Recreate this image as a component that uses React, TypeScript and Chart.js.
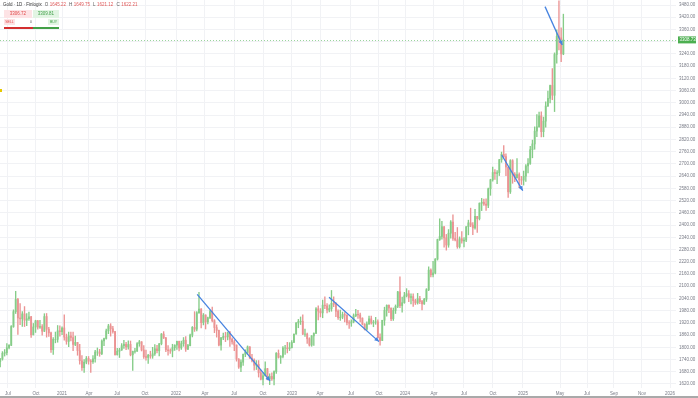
import React, { useEffect, useRef } from 'react';
import { Chart, registerables } from 'chart.js';
Chart.register(...registerables);

// Weekly Gold candles, week index 0 = week ending 2020-06-05
const firstOpen = 1726;
const weekClose = [
  1683,1730,1743,1771,1774,1798,1810,1902,1975,2035,
  1944,1940,1964,1933,1940,1950,1861,1900,1930,1899,
  1902,1879,1951,1889,1871,1788,1839,1839,1881,1877,
  1895,1850,1829,1856,1848,1814,1824,1784,1734,1700,
  1727,1745,1733,1729,1744,1777,1777,1769,1831,1843,
  1881,1905,1891,1877,1764,1781,1787,1808,1815,1802,
  1814,1763,1780,1781,1818,1827,1787,1754,1750,1761,
  1757,1768,1793,1783,1818,1865,1846,1788,1783,1782,
  1798,1811,1829,1797,1818,1835,1791,1808,1860,1898,
  1889,1970,1988,1921,1958,1925,1945,1975,1931,1897,
  1883,1811,1846,1853,1851,1871,1840,1827,1811,1742,
  1703,1727,1766,1775,1802,1747,1737,1712,1716,1675,
  1643,1660,1695,1644,1657,1645,1681,1771,1751,1755,
  1797,1797,1793,1798,1824,1865,1920,1926,1928,1865,
  1865,1842,1811,1856,1868,1989,1978,1969,2007,2004,
  1983,1990,2016,2011,1977,1946,1948,1961,1958,1921,
  1919,1925,1955,1962,1959,1943,1914,1889,1915,1940,
  1919,1924,1925,1848,1833,1933,1981,2006,1993,1940,
  1981,2001,2072,2005,2019,2053,2063,2045,2049,2029,
  2018,2039,2024,2013,2036,2083,2179,2156,2165,2233,
  2329,2344,2392,2337,2302,2360,2415,2334,2327,2294,
  2333,2322,2326,2392,2411,2400,2386,2443,2431,2507,
  2512,2503,2497,2578,2622,2658,2653,2657,2721,2747,
  2736,2685,2563,2716,2650,2633,2648,2622,2621,2640,
  2690,2703,2770,2798,2861,2882,2936,2858,2910,2984,
  3022,3085,3037,3237,3327,3319,3240,3308.73,
];
const weekHigh = [
  1744,1744,1745,1779,1789,1818,1814,1907,1984,2075,
  2040,2015,1976,2000,1966,1973,1952,1917,1933,1933,
  1932,1911,1965,1966,1898,1875,1848,1875,1907,1906,
  1900,1959,1865,1875,1875,1875,1855,1824,1815,1759,
  1740,1755,1755,1740,1759,1785,1797,1790,1837,1845,
  1890,1913,1916,1903,1878,1795,1795,1818,1834,1825,
  1832,1831,1782,1795,1823,1834,1828,1809,1787,1765,
  1781,1800,1814,1810,1818,1868,1877,1849,1808,1793,
  1815,1812,1831,1831,1831,1848,1853,1815,1865,1902,
  1975,1975,2070,1990,1966,1960,1948,1982,1998,1936,
  1910,1885,1849,1870,1874,1875,1879,1847,1836,1812,
  1745,1739,1767,1788,1807,1804,1765,1744,1735,1735,
  1688,1675,1729,1697,1670,1675,1684,1774,1787,1760,
  1804,1810,1824,1823,1833,1865,1922,1937,1949,1959,
  1890,1870,1847,1858,1871,1995,2003,1990,2032,2048,
  2015,2009,2079,2048,2020,1984,1983,1973,1971,1960,
  1931,1935,1964,1987,1982,1968,1945,1916,1925,1953,
  1953,1932,1947,1935,1866,1933,1997,2009,2009,1993,
  1993,2008,2075,2146,2047,2070,2088,2078,2063,2062,
  2036,2065,2050,2031,2041,2088,2195,2185,2222,2236,
  2331,2431,2418,2392,2354,2378,2422,2450,2364,2388,
  2342,2368,2338,2392,2424,2483,2412,2477,2440,2509,
  2531,2527,2529,2581,2625,2685,2672,2667,2722,2758,
  2790,2750,2685,2721,2721,2657,2726,2656,2639,2665,
  2697,2726,2786,2817,2882,2942,2955,2956,2930,3005,
  3057,3087,3168,3245,3358,3500,3368,3435,
];
const weekLow = [
  1670,1671,1704,1737,1757,1763,1792,1808,1898,1966,
  1863,1911,1902,1902,1906,1932,1848,1861,1873,1889,
  1893,1860,1877,1850,1853,1775,1765,1822,1825,1855,
  1862,1835,1815,1803,1831,1784,1808,1761,1717,1687,
  1677,1719,1717,1677,1721,1727,1760,1756,1764,1808,
  1840,1867,1855,1870,1761,1761,1750,1785,1795,1789,
  1791,1758,1687,1771,1780,1805,1782,1745,1737,1721,
  1746,1746,1760,1772,1758,1812,1843,1779,1762,1770,
  1753,1785,1790,1782,1790,1805,1780,1788,1807,1851,
  1878,1880,1966,1895,1910,1890,1915,1940,1925,1872,
  1850,1807,1786,1838,1828,1836,1805,1816,1784,1732,
  1697,1681,1711,1754,1765,1745,1728,1688,1691,1654,
  1640,1615,1660,1640,1617,1638,1616,1672,1747,1721,
  1748,1765,1773,1784,1797,1824,1865,1896,1912,1862,
  1853,1819,1806,1805,1809,1868,1934,1949,1945,1990,
  1969,1974,1977,2000,1951,1937,1932,1940,1925,1910,
  1893,1903,1920,1950,1942,1925,1910,1885,1884,1912,
  1914,1901,1913,1846,1810,1834,1908,1953,1970,1931,
  1932,1966,1994,1995,1973,2016,2047,2024,2013,2001,
  2010,2012,2014,1984,2010,2025,2078,2146,2146,2160,
  2228,2325,2331,2291,2277,2291,2336,2325,2322,2286,
  2287,2311,2293,2319,2352,2392,2353,2380,2364,2425,
  2471,2496,2472,2485,2546,2615,2624,2603,2643,2708,
  2729,2643,2536,2555,2605,2613,2630,2583,2599,2596,
  2614,2656,2697,2730,2772,2834,2880,2832,2833,2880,
  2982,3000,3015,2957,3194,3260,3202,3236,
];

// Time-axis labels and their positions in week-index units
const tickLabels = ['Jul','Oct','2021','Apr','Jul','Oct','2022','Apr','Jul','Oct','2023','Apr','Jul','Oct','2024','Apr','Jul','Oct','2025','May','Jul','Sep','Nov','2026'];
const tickPos = [5.5,18.2,30.0,42.2,54.9,67.6,81.6,94.7,107.9,121.0,134.1,146.8,160.8,173.5,185.3,198.4,212.0,225.1,238.7,255.5,267.7,279.9,292.6,305.3];

// Price-axis labels
const priceTicks = [1620,1680,1740,1800,1860,1920,1980,2040,2100,2160,2220,2280,2340,2400,2460,2520,2580,2640,2700,2760,2820,2880,2940,3000,3060,3120,3180,3240,3300,3360,3420,3480];

// Trend-arrow drawings: [startWeek, startPrice, endWeek, endPrice]
const arrows = [
  [91.2, 2060, 124.2, 1635],
  [150.9, 2046, 173.5, 1828],
  [229.1, 2744, 238.6, 2569],
  [248.7, 3472, 256.5, 3284],
];

const lastPrice = 3308.73;
const bidPrice = '3306.72';
const askPrice = '3309.81';

const GREEN = '#86cc88';
const RED = '#eb9393';

export default function App() {
  const ref = useRef<HTMLCanvasElement | null>(null);

  useEffect(() => {
    document.body.style.margin = '0';
    const opens = weekClose.map((_, i) => (i === 0 ? firstOpen : weekClose[i - 1]));
    const colors = weekClose.map((c, i) => (c >= opens[i] ? GREEN : RED));

    const arrowPlugin = {
      id: 'arrowHeads',
      afterDatasetsDraw(chart: any) {
        const ctx = chart.ctx;
        chart.data.datasets.forEach((ds: any, di: number) => {
          if (!ds.isArrow) return;
          const meta = chart.getDatasetMeta(di);
          const p0 = meta.data[0];
          const p1 = meta.data[1];
          if (!p0 || !p1) return;
          const a = Math.atan2(p1.y - p0.y, p1.x - p0.x);
          const L = 4.5, W = 2.2;
          ctx.save();
          ctx.fillStyle = ds.borderColor;
          ctx.beginPath();
          ctx.moveTo(p1.x, p1.y);
          ctx.lineTo(p1.x - L * Math.cos(a) + W * Math.sin(a), p1.y - L * Math.sin(a) - W * Math.cos(a));
          ctx.lineTo(p1.x - L * Math.cos(a) - W * Math.sin(a), p1.y - L * Math.sin(a) + W * Math.cos(a));
          ctx.closePath();
          ctx.fill();
          ctx.restore();
        });
      },
    };

    const priceLinePlugin = {
      id: 'priceLine',
      afterDatasetsDraw(chart: any) {
        const { ctx, chartArea, scales } = chart;
        const y = Math.round(scales.y.getPixelForValue(lastPrice)) + 0.5;
        ctx.save();
        ctx.strokeStyle = '#9ad49c';
        ctx.lineWidth = 1;
        ctx.setLineDash([1, 2]);
        ctx.beginPath();
        ctx.moveTo(chartArea.left, y);
        ctx.lineTo(chartArea.right, y);
        ctx.stroke();
        ctx.restore();
      },
      afterDraw(chart: any) {
        const { ctx, chartArea, scales } = chart;
        const y = scales.y.getPixelForValue(lastPrice);
        ctx.save();
        ctx.fillStyle = '#4caf50';
        ctx.fillRect(chartArea.right + 2, y - 3.5, 18, 7);
        ctx.fillStyle = '#ffffff';
        ctx.font = '4.5px "Liberation Sans", Arial, sans-serif';
        ctx.textBaseline = 'middle';
        ctx.textAlign = 'left';
        ctx.fillText(lastPrice.toFixed(2), chartArea.right + 3.5, y + 0.3);
        ctx.restore();
      },
    };

    const chart = new Chart(ref.current as HTMLCanvasElement, {
      type: 'bar',
      data: {
        datasets: [
          ...arrows.map((a) => ({
            type: 'line' as const,
            isArrow: true,
            data: [{ x: a[0], y: a[1] }, { x: a[2], y: a[3] }],
            borderColor: '#4683e0',
            borderWidth: 1.3,
            pointRadius: 0,
            order: 0,
          })),
          {
            type: 'bar' as const,
            data: weekClose.map((c, i) => ({ x: i, y: [opens[i], c] })),
            backgroundColor: colors,
            borderWidth: 0,
            barThickness: 1.2,
            grouped: false,
            order: 1,
          },
          {
            type: 'bar' as const,
            data: weekClose.map((_, i) => ({ x: i, y: [weekLow[i], weekHigh[i]] })),
            backgroundColor: colors,
            borderWidth: 0,
            barThickness: 0.7,
            grouped: false,
            order: 2,
          },
        ] as any,
      },
      options: {
        animation: false,
        responsive: false,
        events: [],
        layout: { padding: 0 },
        plugins: { legend: { display: false }, tooltip: { enabled: false } },
        scales: {
          x: {
            type: 'linear',
            min: 1.9,
            max: 308,
            offset: false,
            grid: { color: '#f1f2f5', drawTicks: false, offset: false, lineWidth: 1 },
            border: { display: false },
            ticks: {
              autoSkip: false,
              maxRotation: 0,
              padding: 3,
              color: '#787b86',
              font: { size: 4.5, family: '"Liberation Sans", Arial, sans-serif' },
              callback: (_v: any, i: number) => tickLabels[i],
            },
            afterBuildTicks: (s: any) => {
              s.ticks = tickPos.map((v) => ({ value: v }));
            },
            afterFit: (s: any) => {
              s.height = 10;
              s.paddingLeft = 0;
              s.paddingRight = 0;
            },
          },
          y: {
            type: 'linear',
            position: 'right',
            min: 1600.34,
            max: 3504.54,
            grid: { color: '#f1f2f5', drawTicks: false, lineWidth: 1 },
            border: { display: false },
            ticks: {
              padding: 3,
              color: '#787b86',
              font: { size: 4.5, family: '"Liberation Sans", Arial, sans-serif' },
              callback: (v: any) => (v === 3300 ? '' : Number(v).toFixed(2)),
            },
            afterBuildTicks: (s: any) => {
              s.ticks = priceTicks.map((v) => ({ value: v }));
            },
            afterFit: (s: any) => {
              s.width = 22;
              s.paddingTop = 0;
              s.paddingBottom = 0;
            },
          },
        },
      } as any,
      plugins: [arrowPlugin, priceLinePlugin],
    });
    return () => chart.destroy();
  }, []);

  const font = '"Liberation Sans", Arial, sans-serif';
  const val = { color: '#e05a5a', marginRight: 3 };
  const lab = { color: '#555', marginRight: 1.5 };
  return (
    <div style={{ position: 'relative', width: 698, height: 398, overflow: 'hidden', background: '#fff', fontFamily: font }}>
      <canvas ref={ref} width={698} height={398} style={{ display: 'block' }} />
      <div style={{ position: 'absolute', left: 3, top: 1.5, fontSize: 4.5, lineHeight: '5px', whiteSpace: 'nowrap', color: '#333' }}>
        <span style={{ marginRight: 3 }}>Gold · 1D · Finlogix</span>
        <span style={lab}>O</span><span style={val}>1645.22</span>
        <span style={lab}>H</span><span style={val}>1649.75</span>
        <span style={lab}>L</span><span style={val}>1621.12</span>
        <span style={lab}>C</span><span style={val}>1622.21</span>
      </div>
      <div style={{ position: 'absolute', left: 4, top: 10, width: 28, height: 8, background: '#fde3e5', color: '#e04848', fontSize: 4.5, lineHeight: '8px', textAlign: 'center' }}>{bidPrice}</div>
      <div style={{ position: 'absolute', left: 33, top: 10, width: 26, height: 8, background: '#e2f5e3', color: '#3f9f47', fontSize: 4.5, lineHeight: '8px', textAlign: 'center' }}>{askPrice}</div>
      <div style={{ position: 'absolute', left: 4, top: 19, width: 11, height: 6, background: '#fde3e5', color: '#e04848', fontSize: 3.5, lineHeight: '6px', textAlign: 'center' }}>SELL</div>
      <div style={{ position: 'absolute', left: 28, top: 19, width: 6, height: 6, color: '#555', fontSize: 3.5, lineHeight: '6px', textAlign: 'center' }}>0</div>
      <div style={{ position: 'absolute', left: 48, top: 19, width: 11, height: 6, background: '#e2f5e3', color: '#3f9f47', fontSize: 3.5, lineHeight: '6px', textAlign: 'center' }}>BUY</div>
      <div style={{ position: 'absolute', left: 4, top: 27, width: 29, height: 2, background: '#d32f2f' }} />
      <div style={{ position: 'absolute', left: 33, top: 27, width: 26, height: 2, background: '#43a047' }} />
      <div style={{ position: 'absolute', left: 0, top: 89, width: 2, height: 3, background: '#e6c800' }} />
      <div style={{ position: 'absolute', left: 0, top: 396, width: 698, height: 2, background: '#a9a9a9' }} />
    </div>
  );
}
